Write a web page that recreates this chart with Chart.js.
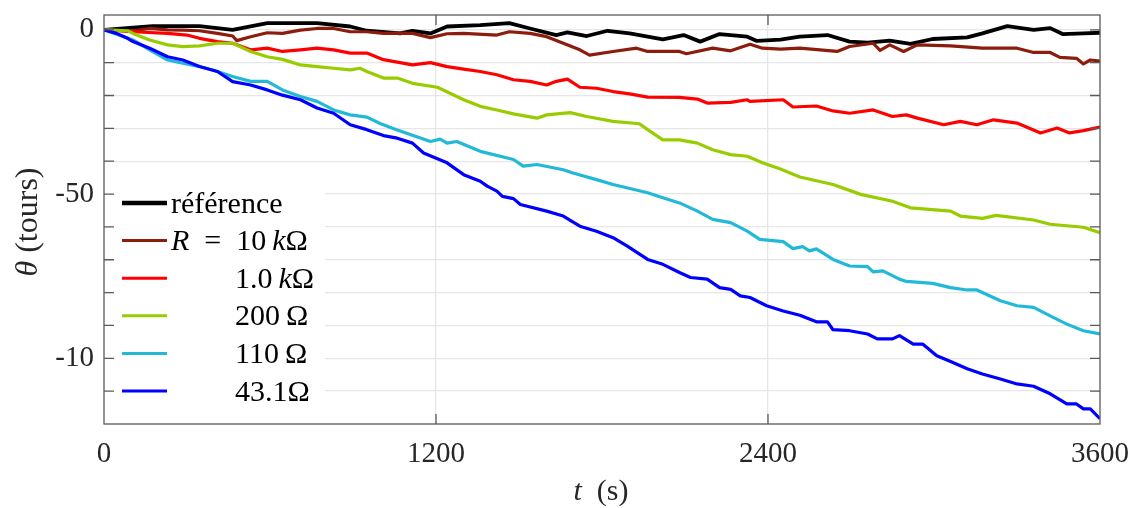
<!DOCTYPE html>
<html>
<head>
<meta charset="utf-8">
<script src="https://cdn.jsdelivr.net/npm/chart.js@4.4.0/dist/chart.umd.min.js"></script>
<style>
html, body { margin: 0; padding: 0; background: #fff; }
</style>
</head>
<body>
<canvas id="thetaChart" width="1135" height="508"></canvas>
<script>
// legend labels and line colours
const seriesLabels = ['référence', 'R = 10 kΩ', '1.0 kΩ', '200 Ω', '110 Ω', '43.1Ω'];
const seriesColors = ['#000000', '#8c1c0c', '#ff0000', '#99cc00', '#22b8d8', '#0000ff'];

// référence
const refT = [0, 175, 345, 465, 590, 710, 770, 890, 950, 1070, 1115, 1180, 1240, 1360, 1465, 1540, 1635, 1675, 1745, 1820, 1900, 2020, 2095, 2155, 2225, 2325, 2360, 2445, 2515, 2615, 2695, 2760, 2840, 2915, 2995, 3120, 3175, 3265, 3360, 3420, 3465, 3540, 3600];
const refV = [0, 1.1, 1.1, 0, 2, 2, 2, 1, -0.3, -1.1, -0.3, -1.1, 1, 1.4, 2, 0.4, -1.6, -0.8, -1.9, -0.3, -1.1, -2.9, -1.6, -3.6, -1.3, -2.1, -3.4, -3, -2.1, -1.6, -3.6, -3.9, -3.3, -4.3, -2.8, -2.3, -1.1, 1.1, 0, 0.5, -1.3, -1.1, -0.9];

// R = 10 kOhm
const r10kT = [0, 105, 165, 230, 285, 345, 410, 465, 480, 530, 590, 645, 710, 770, 830, 890, 950, 1010, 1070, 1115, 1180, 1240, 1300, 1420, 1465, 1540, 1600, 1660, 1720, 1755, 1840, 1925, 1965, 2080, 2105, 2200, 2265, 2335, 2380, 2445, 2515, 2650, 2695, 2780, 2805, 2840, 2890, 2940, 3060, 3175, 3300, 3360, 3420, 3455, 3515, 3540, 3565, 3600];
const r10kV = [0, -0.3, 0.4, 0, -0.1, -0.3, -1.1, -1.9, -3.3, -2.1, -0.9, -1.1, -0.1, 0.4, 0.4, -0.6, -0.6, -1.1, -1.0, -1.1, -2.4, -1.2, -1.1, -1.6, -0.6, -1.1, -2.1, -4.1, -6.1, -7.7, -6.6, -5.6, -6.6, -6.6, -7.3, -5.6, -6.4, -4.4, -5.6, -5.9, -5.6, -6.6, -5.1, -4.1, -6.3, -4.6, -6.6, -4.6, -4.9, -5.6, -5.6, -6.9, -6.9, -8.4, -8.7, -10.4, -9.2, -9.5];

// 1.0 kOhm
const r1kT = [0, 105, 230, 300, 345, 410, 465, 530, 590, 645, 710, 770, 830, 890, 950, 1010, 1070, 1115, 1180, 1240, 1300, 1360, 1420, 1480, 1540, 1600, 1635, 1675, 1720, 1780, 1840, 1900, 1965, 2080, 2145, 2180, 2265, 2325, 2335, 2455, 2490, 2575, 2635, 2695, 2780, 2850, 2900, 2940, 3035, 3095, 3155, 3215, 3300, 3385, 3445, 3490, 3540, 3600];
const r1kV = [0, -0.6, -1.1, -1.6, -2.6, -3.6, -4.1, -6.1, -5.6, -6.6, -6.1, -5.6, -6.1, -7.1, -7.1, -9.1, -10.0, -10.7, -10.0, -11.2, -12.0, -12.7, -13.7, -15.2, -15.7, -16.8, -15.7, -15.0, -17.5, -17.8, -18.8, -19.5, -20.5, -20.6, -21.1, -22.3, -22.1, -21.3, -21.8, -21.3, -23.5, -23.2, -24.7, -25.4, -24.4, -26.4, -25.9, -26.9, -28.9, -27.9, -28.9, -27.4, -28.4, -31.4, -29.9, -31.4, -30.7, -29.6];

// 200 Ohm
const r200T = [0, 85, 105, 165, 230, 285, 345, 410, 465, 530, 590, 645, 710, 770, 830, 890, 925, 950, 1010, 1060, 1115, 1205, 1300, 1360, 1420, 1480, 1565, 1600, 1685, 1745, 1840, 1935, 1965, 2020, 2080, 2145, 2200, 2265, 2325, 2380, 2445, 2515, 2635, 2735, 2850, 2915, 3060, 3095, 3175, 3225, 3360, 3420, 3540, 3600];
const r200V = [0, -0.3, -1.1, -3.1, -4.6, -5.1, -4.9, -4.1, -4.1, -6.6, -8.2, -9.0, -10.7, -11.2, -11.7, -12.2, -11.7, -12.7, -14.7, -14.7, -16.3, -17.5, -21.3, -23.3, -24.4, -25.6, -26.9, -25.9, -25.2, -26.4, -27.9, -28.6, -30.4, -33.5, -33.5, -34.5, -36.5, -38.0, -38.5, -40.5, -42.4, -44.8, -47.1, -50.1, -52.2, -54.2, -55.2, -56.7, -57.4, -56.5, -57.9, -59.2, -60.1, -61.8];

// 110 Ohm
const r110T = [0, 105, 165, 230, 285, 345, 410, 465, 530, 590, 645, 710, 770, 830, 890, 950, 1000, 1060, 1180, 1215, 1240, 1275, 1360, 1480, 1515, 1565, 1660, 1695, 1780, 1840, 1965, 2020, 2080, 2145, 2200, 2265, 2325, 2370, 2455, 2490, 2525, 2550, 2575, 2635, 2695, 2760, 2780, 2815, 2875, 2900, 2995, 3060, 3120, 3155, 3240, 3300, 3360, 3420, 3480, 3540, 3600];
const r110V = [0, -3.1, -6.1, -9.2, -10.2, -11.2, -12.7, -14.2, -15.7, -15.7, -18.3, -20.3, -21.8, -24.4, -25.9, -26.6, -28.6, -30.5, -34.0, -33.3, -34.5, -34.0, -37.0, -39.5, -41.5, -41.0, -42.6, -43.6, -45.6, -47.1, -49.6, -51.1, -52.7, -55.2, -57.7, -58.7, -61.3, -63.8, -64.5, -66.6, -66.0, -67.3, -66.7, -69.9, -71.9, -72.1, -73.7, -73.4, -75.9, -76.6, -77.2, -78.5, -79.2, -79.2, -82.5, -84.0, -84.5, -87.1, -89.6, -91.6, -92.6];

// 43.1 Ohm
const r43T = [0, 45, 85, 105, 165, 230, 285, 345, 410, 465, 530, 590, 645, 710, 770, 830, 890, 950, 1010, 1060, 1115, 1155, 1240, 1300, 1360, 1385, 1420, 1440, 1480, 1505, 1600, 1660, 1720, 1780, 1840, 1890, 1965, 2020, 2080, 2120, 2180, 2225, 2265, 2300, 2335, 2395, 2455, 2515, 2575, 2615, 2635, 2695, 2760, 2795, 2850, 2875, 2925, 2960, 3010, 3060, 3120, 3175, 3240, 3300, 3360, 3420, 3480, 3515, 3540, 3565, 3600];
const r43V = [0, -1.1, -2.6, -3.6, -5.6, -8.2, -9.2, -11.2, -12.7, -15.8, -16.8, -18.3, -19.9, -21.3, -23.8, -25.4, -28.9, -30.4, -32.2, -33.0, -34.5, -37.5, -40.5, -44.1, -46.1, -47.6, -49.1, -50.7, -51.4, -53.2, -55.2, -56.7, -59.8, -61.3, -63.3, -65.8, -69.9, -71.4, -73.9, -75.4, -75.9, -78.5, -79.0, -81.0, -81.5, -84.0, -85.6, -86.9, -88.9, -88.9, -91.3, -91.6, -92.6, -94.1, -94.1, -93.1, -95.7, -95.7, -99.2, -101.0, -103.2, -104.8, -106.3, -107.8, -108.5, -110.8, -113.9, -113.9, -115.4, -115.4, -118.4];

// axes
const xTickValues = [0, 1200, 2400, 3600];
const yTickValues = [-120, -110, -100, -90, -80, -70, -60, -50, -40, -30, -20, -10, 0];
const yTickLabels = { '0': '0', '-50': '-50', '-100': '-10' };

const allT = [refT, r10kT, r1kT, r200T, r110T, r43T];
const allV = [refV, r10kV, r1kV, r200V, r110V, r43V];

const SERIF = '"Liberation Serif", "DejaVu Serif", serif';
const TXT = '#262626';
const AXIS = '#5a5a5a';

function pairs(ts, vs) {
    return ts.map((t, i) => ({ x: t, y: vs[i] }));
}

// draw text made of [string, italic] runs, returns width
function drawRuns(ctx, runs, x, y, size, measureOnly) {
    let w = 0;
    for (const [s, it] of runs) {
        ctx.font = (it ? 'italic ' : '') + size + 'px ' + SERIF;
        if (!measureOnly) ctx.fillText(s, x + w, y);
        w += ctx.measureText(s).width;
    }
    return w;
}

// R and k are math italics; wide space round "=", thin space before units (LaTeX look)
function labelRuns(label) {
    const txt = label.replace(' = ', '\u2002=\u2002').replace(/ /g, '\u2009');
    return txt.split(/([Rk])/).filter(s => s.length).map(s => [s, s === 'R' || s === 'k']);
}

const datasets = seriesLabels.map((lab, i) => ({
    label: lab,
    data: pairs(allT[i], allV[i]),
    borderColor: seriesColors[i],
    borderWidth: i === 0 ? 3.8 : 3.2,
    pointRadius: 0,
    tension: 0,
    fill: false,
    borderJoinStyle: 'round',
    order: seriesLabels.length - i
}));

function noPad(s) {
    s.paddingLeft = 0; s.paddingRight = 0; s.paddingTop = 0; s.paddingBottom = 0;
}

const decorPlugin = {
    id: 'decor',
    afterDatasetsDraw(chart) {
        const ctx = chart.ctx;
        const a = chart.chartArea;
        ctx.save();
        // legend box
        ctx.fillStyle = '#ffffff';
        ctx.fillRect(a.left + 1, 181, 220, 228);
        const size = 30;
        ctx.textBaseline = 'alphabetic';
        seriesLabels.forEach((lab, i) => {
            const cy = 203 + i * 37.6;
            ctx.strokeStyle = seriesColors[i];
            ctx.lineWidth = i === 0 ? 4.5 : 3;
            ctx.beginPath();
            ctx.moveTo(122, cy);
            ctx.lineTo(167, cy);
            ctx.stroke();
            ctx.fillStyle = '#000000';
            const x0 = i < 2 ? 171 : 235;
            drawRuns(ctx, labelRuns(lab), x0, cy + 9.5, size, false);
        });
        ctx.restore();
    },
    afterDraw(chart) {
        const ctx = chart.ctx;
        const a = chart.chartArea;
        const xs = chart.scales.x, ys = chart.scales.y;
        ctx.save();
        ctx.strokeStyle = AXIS;
        ctx.lineWidth = 1.3;
        ctx.strokeRect(a.left, a.top, a.right - a.left, a.bottom - a.top);
        ctx.beginPath();
        yTickValues.forEach(v => {
            const y = ys.getPixelForValue(v);
            if (y < a.top + 2 || y > a.bottom - 2) return;
            ctx.moveTo(a.left, y); ctx.lineTo(a.left + 10, y);
            ctx.moveTo(a.right, y); ctx.lineTo(a.right - 10, y);
        });
        xTickValues.forEach(v => {
            const x = xs.getPixelForValue(v);
            if (x < a.left + 2 || x > a.right - 2) return;
            ctx.moveTo(x, a.bottom); ctx.lineTo(x, a.bottom - 10);
            ctx.moveTo(x, a.top); ctx.lineTo(x, a.top + 10);
        });
        ctx.stroke();

        // axis titles
        ctx.fillStyle = TXT;
        ctx.textBaseline = 'alphabetic';
        const xr = [['t', true], ['\u2002(s)', false]];
        const xw = drawRuns(ctx, xr, 0, 0, 30, true);
        drawRuns(ctx, xr, 601 - xw / 2, 500, 30, false);

        const yr = [['θ', true], [' (tours)', false]];
        const yw = drawRuns(ctx, yr, 0, 0, 32, true);
        ctx.translate(37, 222);
        ctx.rotate(-Math.PI / 2);
        drawRuns(ctx, yr, -yw / 2, 0, 32, false);
        ctx.restore();
    }
};

const ctx = document.getElementById('thetaChart').getContext('2d');
const chart = new Chart(ctx, {
    type: 'line',
    data: { datasets: datasets },
    options: {
        responsive: false,
        animation: false,
        devicePixelRatio: 1,
        layout: { padding: { left: 0, right: 35, top: 15, bottom: 0 } },
        plugins: { legend: { display: false }, tooltip: { enabled: false } },
        scales: {
            x: {
                type: 'linear',
                min: 0,
                max: 3600,
                afterBuildTicks: s => { s.ticks = xTickValues.map(v => ({ value: v })); },
                afterFit: s => { s.height = 84; noPad(s); },
                grid: {
                    color: c => (c.tick && (c.tick.value === 0 || c.tick.value === 3600)) ? 'rgba(0,0,0,0)' : '#e6e6e6',
                    lineWidth: 1.3,
                    drawTicks: false
                },
                border: { display: false },
                ticks: {
                    autoSkip: false,
                    maxRotation: 0,
                    padding: 13,
                    color: TXT,
                    font: { family: SERIF, size: 29 },
                    callback: v => String(v)
                }
            },
            y: {
                type: 'linear',
                min: -120,
                max: 4.5,
                afterBuildTicks: s => { s.ticks = yTickValues.map(v => ({ value: v })); },
                afterFit: s => { s.width = 104; noPad(s); },
                grid: {
                    color: c => (c.tick && c.tick.value === -120) ? 'rgba(0,0,0,0)' : '#e6e6e6',
                    lineWidth: 1.3,
                    drawTicks: false
                },
                border: { display: false },
                ticks: {
                    autoSkip: false,
                    padding: 10,
                    color: TXT,
                    font: { family: SERIF, size: 29 },
                    callback: v => (yTickLabels[String(v)] !== undefined ? yTickLabels[String(v)] : '')
                }
            }
        }
    },
    plugins: [decorPlugin]
});
</script>
</body>
</html>
